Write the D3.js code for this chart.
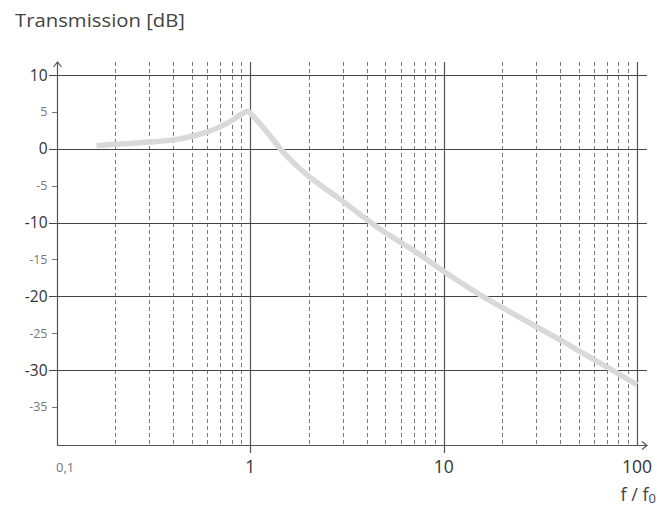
<!DOCTYPE html>
<html>
<head>
<meta charset="utf-8">
<script src="https://cdn.jsdelivr.net/npm/d3@7"></script>
<style>
  html, body { margin: 0; padding: 0; background: #fff; }
  svg { display: block; font-family: "Open Sans", "Roboto", "DejaVu Sans", sans-serif; }
</style>
</head>
<body>
<svg id="chart" width="672" height="508"></svg>
<script>
// ---- data ----
const freq = [0.16, 0.2, 0.3, 0.4, 0.5, 0.6, 0.7, 0.8, 0.9, 0.97, 1.0, 1.13, 1.27, 1.43, 1.6, 2, 3, 4, 5, 7, 10, 15, 20, 30, 40, 50, 70, 100];
const gain = [0.4, 0.6, 0.9, 1.2, 1.7, 2.3, 3.0, 3.8, 4.7, 5.1, 4.8, 3.3, 1.7, 0.0, -1.4, -3.7, -7.1, -9.6, -11.4, -13.8, -16.6, -19.6, -21.5, -24.1, -25.9, -27.4, -29.6, -32.0];
const majorY = [10, 0, -10, -20, -30];
const minorY = [5, -5, -15, -25, -35];
const decadesX = [0.1, 1, 10, 100];
const decadeLabels = ["0,1", "1", "10", "100"];
const minorX = [0.2,0.3,0.4,0.5,0.6,0.7,0.8,0.9, 2,3,4,5,6,7,8,9, 20,30,40,50,60,70,80,90];

// ---- layout ----
const pLeft = 57, pRight = 637, pTop = 62, pBottom = 445, xEnd = 647;
const svg = d3.select("#chart");
const x = d3.scaleLog().domain([0.1, 100]).range([pLeft, pRight]);
const y = d3.scaleLinear().domain([10, -30]).range([75, 370]);

// title
svg.append("text").attr("x", 15).attr("y", 26.5)
  .attr("font-size", 17.5).attr("fill", "#444")
  .attr("textLength", 170).attr("lengthAdjust", "spacingAndGlyphs")
  .text("Transmission [dB]");

// dashed minor verticals
svg.append("g").selectAll("line").data(minorX).join("line")
  .attr("x1", d => Math.round(x(d)) + 0.5).attr("x2", d => Math.round(x(d)) + 0.5)
  .attr("y1", pTop).attr("y2", pBottom)
  .attr("stroke", "#7a7a7a").attr("stroke-width", 1).attr("stroke-dasharray", "4,3");

// solid decade verticals (1, 10, 100) ; 1 and 10 extend below axis
svg.append("g").selectAll("line").data(decadesX.slice(1)).join("line")
  .attr("x1", d => Math.round(x(d)) + 0.5).attr("x2", d => Math.round(x(d)) + 0.5)
  .attr("y1", pTop).attr("y2", d => d === 100 ? pBottom : pBottom + 8)
  .attr("stroke", "#555").attr("stroke-width", 1.2);

// major horizontal gridlines
svg.append("g").selectAll("line").data(majorY).join("line")
  .attr("x1", pLeft - 8).attr("x2", xEnd)
  .attr("y1", d => Math.round(y(d)) + 0.5).attr("y2", d => Math.round(y(d)) + 0.5)
  .attr("stroke", "#444").attr("stroke-width", 1.2);

// minor y ticks
svg.append("g").selectAll("line").data(minorY).join("line")
  .attr("x1", pLeft - 5).attr("x2", pLeft)
  .attr("y1", d => Math.round(y(d)) + 0.5).attr("y2", d => Math.round(y(d)) + 0.5)
  .attr("stroke", "#777").attr("stroke-width", 1);

// curve
const line = d3.line().x((d, i) => x(freq[i])).y(d => y(d)).curve(d3.curveCatmullRom.alpha(0.5));
svg.append("path").datum(gain)
  .attr("d", line).attr("fill", "none")
  .attr("stroke", "#d9d9d9").attr("stroke-width", 5.5)
  .attr("stroke-linejoin", "round");

// axes
svg.append("line").attr("x1", pLeft + 0.5).attr("x2", pLeft + 0.5).attr("y1", pTop).attr("y2", pBottom)
  .attr("stroke", "#555").attr("stroke-width", 1.2);
svg.append("line").attr("x1", pLeft).attr("x2", xEnd).attr("y1", pBottom + 0.5).attr("y2", pBottom + 0.5)
  .attr("stroke", "#555").attr("stroke-width", 1.2);
// arrows
svg.append("path").attr("d", `M${pLeft - 3.5},${pTop + 5} L${pLeft + 0.5},${pTop} L${pLeft + 4.5},${pTop + 5}`)
  .attr("fill", "none").attr("stroke", "#555").attr("stroke-width", 1.2);
svg.append("path").attr("d", `M${xEnd - 5},${pBottom - 3.5} L${xEnd},${pBottom + 0.5} L${xEnd - 5},${pBottom + 4.5}`)
  .attr("fill", "none").attr("stroke", "#555").attr("stroke-width", 1.2);

// y labels
svg.append("g").selectAll("text").data(majorY).join("text")
  .attr("x", 47.5).attr("y", d => y(d) + 5.5).attr("text-anchor", "end")
  .attr("font-size", 15.5).attr("fill", "#333").text(d => d);
svg.append("g").selectAll("text").data(minorY).join("text")
  .attr("x", 47.5).attr("y", d => y(d) + 4.5).attr("text-anchor", "end")
  .attr("font-size", 12.5).attr("fill", "#777").text(d => d);

// x labels
svg.append("g").selectAll("text").data(decadesX).join("text")
  .attr("x", (d, i) => i === 0 ? x(d) - 1 : x(d))
  .attr("y", (d, i) => i === 0 ? 472 : 473)
  .attr("text-anchor", (d, i) => i === 0 ? "start" : "middle")
  .attr("font-size", (d, i) => i === 0 ? 13 : 17.5)
  .attr("fill", (d, i) => i === 0 ? "#777" : "#333")
  .text((d, i) => decadeLabels[i]);

// x axis title
const xt = svg.append("text").attr("x", 656).attr("y", 501).attr("text-anchor", "end")
  .attr("font-size", 18).attr("fill", "#444");
xt.append("tspan").text("f / f");
xt.append("tspan").attr("font-size", 13).attr("dy", 2).text("0");
</script>
</body>
</html>
